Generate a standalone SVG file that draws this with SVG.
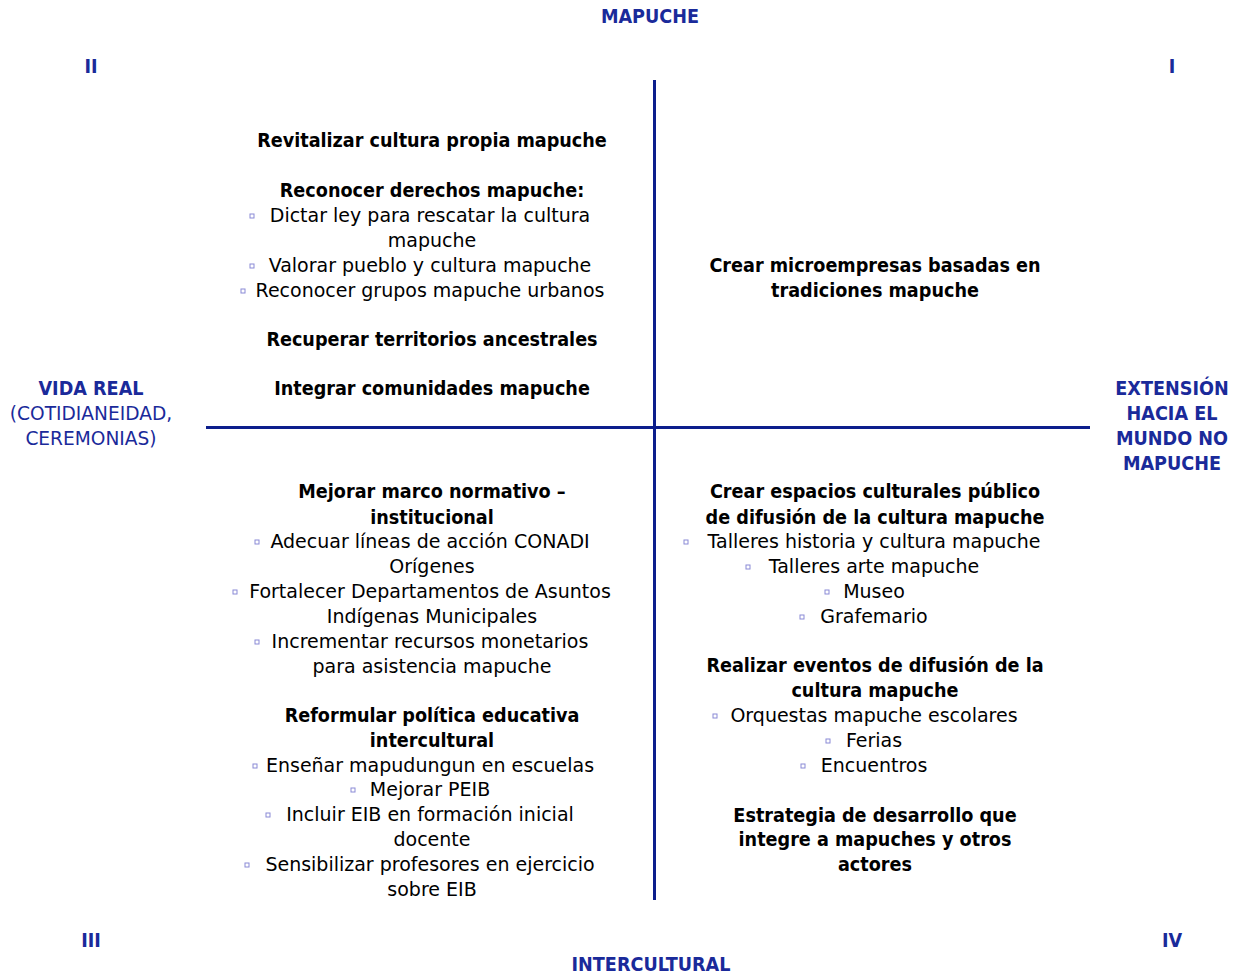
<svg xmlns="http://www.w3.org/2000/svg" width="1236" height="977" viewBox="0 0 1236 977">
<style>
text{font-family:"DejaVu Sans",sans-serif;font-size:19px;fill:#000;text-anchor:middle;dominant-baseline:central}
.b,.lab{font-family:"DejaVu Sans Condensed","DejaVu Sans",sans-serif;font-stretch:condensed;font-weight:bold;font-size:19.6px}
.lab,.labn{fill:#1a2a9a}
.labn{font-size:18.6px}
.bul{fill:none;stroke:#8a8ad6;stroke-width:1}
.axis{stroke:#0c1e8c;stroke-width:3}
</style>
<rect width="1236" height="977" fill="#fff"/>
<g id="connectors">
<line class="axis" x1="654.5" y1="80" x2="654.5" y2="900"/>
<line class="axis" x1="206" y1="427.5" x2="1090" y2="427.5"/>
</g>
<g id="labels">
<text class="lab" x="650" y="16">MAPUCHE</text>
<text class="lab" x="91" y="66">II</text>
<text class="lab" x="1172" y="66">I</text>
<text class="lab" x="91" y="940">III</text>
<text class="lab" x="1172" y="940">IV</text>
<text class="lab" x="651" y="964">INTERCULTURAL</text>
<text class="lab" x="91" y="388">VIDA REAL</text>
<text class="labn" x="91" y="413">(COTIDIANEIDAD,</text>
<text class="labn" x="91" y="438">CEREMONIAS)</text>
<text class="lab" x="1172" y="388">EXTENSIÓN</text>
<text class="lab" x="1172" y="413">HACIA EL</text>
<text class="lab" x="1172" y="438">MUNDO NO</text>
<text class="lab" x="1172" y="463">MAPUCHE</text>
</g>
<g id="q2">
<text class="b" x="432" y="140">Revitalizar cultura propia mapuche</text>
<text class="b" x="432" y="190">Reconocer derechos mapuche:</text>
<rect class="bul" x="250" y="214" width="4" height="4"/>
<text x="430" y="215">Dictar ley para rescatar la cultura</text>
<text x="432" y="240">mapuche</text>
<rect class="bul" x="250" y="264" width="4" height="4"/>
<text x="430" y="265">Valorar pueblo y cultura mapuche</text>
<rect class="bul" x="241" y="289" width="4" height="4"/>
<text x="430" y="290">Reconocer grupos mapuche urbanos</text>
<text class="b" x="432" y="339">Recuperar territorios ancestrales</text>
<text class="b" x="432" y="388">Integrar comunidades mapuche</text>
</g>
<g id="q1">
<text class="b" x="875" y="265">Crear microempresas basadas en</text>
<text class="b" x="875" y="290">tradiciones mapuche</text>
</g>
<g id="q3">
<text class="b" x="432" y="491">Mejorar marco normativo –</text>
<text class="b" x="432" y="517">institucional</text>
<rect class="bul" x="255" y="540" width="4" height="4"/>
<text x="430" y="541">Adecuar líneas de acción CONADI</text>
<text x="432" y="566">Orígenes</text>
<rect class="bul" x="233" y="590" width="4" height="4"/>
<text x="430" y="591">Fortalecer Departamentos de Asuntos</text>
<text x="432" y="616">Indígenas Municipales</text>
<rect class="bul" x="255" y="640" width="4" height="4"/>
<text x="430" y="641">Incrementar recursos monetarios</text>
<text x="432" y="666">para asistencia mapuche</text>
<text class="b" x="432" y="715">Reformular política educativa</text>
<text class="b" x="432" y="740">intercultural</text>
<rect class="bul" x="253" y="764" width="4" height="4"/>
<text x="430" y="765">Enseñar mapudungun en escuelas</text>
<rect class="bul" x="351" y="788" width="4" height="4"/>
<text x="430" y="789">Mejorar PEIB</text>
<rect class="bul" x="266" y="813" width="4" height="4"/>
<text x="430" y="814">Incluir EIB en formación inicial</text>
<text x="432" y="839">docente</text>
<rect class="bul" x="245" y="863" width="4" height="4"/>
<text x="430" y="864">Sensibilizar profesores en ejercicio</text>
<text x="432" y="889">sobre EIB</text>
</g>
<g id="q4">
<text class="b" x="875" y="491">Crear espacios culturales público</text>
<text class="b" x="875" y="517">de difusión de la cultura mapuche</text>
<rect class="bul" x="684" y="540" width="4" height="4"/>
<text x="874" y="541">Talleres historia y cultura mapuche</text>
<rect class="bul" x="746" y="565" width="4" height="4"/>
<text x="874" y="566">Talleres arte mapuche</text>
<rect class="bul" x="825" y="590" width="4" height="4"/>
<text x="874" y="591">Museo</text>
<rect class="bul" x="800" y="615" width="4" height="4"/>
<text x="874" y="616">Grafemario</text>
<text class="b" x="875" y="665">Realizar eventos de difusión de la</text>
<text class="b" x="875" y="690">cultura mapuche</text>
<rect class="bul" x="713" y="714" width="4" height="4"/>
<text x="874" y="715">Orquestas mapuche escolares</text>
<rect class="bul" x="826" y="739" width="4" height="4"/>
<text x="874" y="740">Ferias</text>
<rect class="bul" x="801" y="764" width="4" height="4"/>
<text x="874" y="765">Encuentros</text>
<text class="b" x="875" y="815">Estrategia de desarrollo que</text>
<text class="b" x="875" y="839">integre a mapuches y otros</text>
<text class="b" x="875" y="864">actores</text>
</g>
</svg>
